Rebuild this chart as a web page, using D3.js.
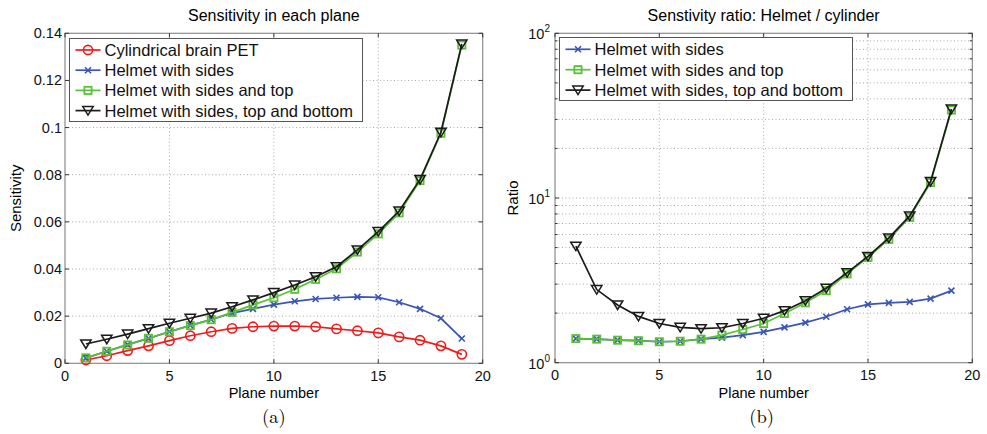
<!DOCTYPE html>
<html><head><meta charset="utf-8">
<script src="https://cdn.jsdelivr.net/npm/d3@7"></script>
<style>body{margin:0;background:#fff}svg{display:block;font-family:"Liberation Sans",Arial,sans-serif}</style>
</head><body>
<svg id="c" width="987" height="434"></svg>
<script>
// ---------- data ----------
const planes = [1,2,3,4,5,6,7,8,9,10,11,12,13,14,15,16,17,18,19];
const cylinder   = [0.0014,0.0032,0.0054,0.0074,0.0096,0.0117,0.0134,0.0148,0.0155,0.0158,0.0158,0.0155,0.0146,0.0138,0.0129,0.0112,0.0098,0.0074,0.0038];
const helmSides  = [0.0022,0.0051,0.0079,0.0106,0.0134,0.0161,0.0186,0.0213,0.0231,0.0249,0.0263,0.0273,0.0278,0.0282,0.0280,0.0259,0.0231,0.0191,0.0105];
const helmTop    = [0.0023,0.0051,0.0078,0.0106,0.0134,0.0160,0.0185,0.0216,0.0248,0.0278,0.0314,0.0356,0.0401,0.0472,0.0549,0.0638,0.0775,0.0976,0.1350];
const helmAll    = [0.0082,0.0102,0.0124,0.0147,0.0170,0.0191,0.0213,0.0240,0.0269,0.0300,0.0332,0.0367,0.0410,0.0481,0.0559,0.0646,0.0780,0.0980,0.1355];
const ratioSides = [1.40,1.39,1.37,1.36,1.34,1.35,1.39,1.42,1.47,1.54,1.64,1.75,1.90,2.11,2.26,2.31,2.34,2.45,2.74];
const ratioTop   = [1.40,1.39,1.37,1.36,1.34,1.35,1.39,1.47,1.59,1.73,1.99,2.31,2.74,3.46,4.36,5.61,7.63,12.4,34.2];
const ratioAll   = [5.10,2.78,2.24,1.91,1.73,1.64,1.61,1.63,1.73,1.86,2.07,2.38,2.83,3.52,4.42,5.72,7.78,12.6,34.7];
const xTicks = [0,5,10,15,20];
const yTicksA = [0,0.02,0.04,0.06,0.08,0.1,0.12,0.14];
const yTickLabelsA = ["0","0.02","0.04","0.06","0.08","0.1","0.12","0.14"];
const yTicksB = [1,10,100];
const yTickExpB = ["0","1","2"];
const namesA = ["Cylindrical brain PET","Helmet with sides","Helmet with sides and top","Helmet with sides, top and bottom"];
const namesB = ["Helmet with sides","Helmet with sides and top","Helmet with sides, top and bottom"];

const COL = {red:"#ee1c1c", blue:"#3a55b4", green:"#5cbf3a", black:"#1a1a1a"};
const svg = d3.select("#c");

function marker(g, type, x, y, color){
  if(type==="o") g.append("circle").attr("cx",x).attr("cy",y).attr("r",4.6).attr("fill","none").attr("stroke",color).attr("stroke-width",1.6);
  else if(type==="x") g.append("path").attr("d",`M${x-3},${y-3}L${x+3},${y+3}M${x-3},${y+3}L${x+3},${y-3}`).attr("stroke",color).attr("stroke-width",1.6).attr("fill","none");
  else if(type==="s") g.append("rect").attr("x",x-3.6).attr("y",y-3.6).attr("width",7.2).attr("height",7.2).attr("fill","none").attr("stroke",color).attr("stroke-width",1.8);
  else if(type==="v") g.append("path").attr("d",`M${x-5.2},${y-4}L${x+5.2},${y-4}L${x},${y+4.5}Z`).attr("fill","none").attr("stroke",color).attr("stroke-width",1.5);
}

function panel(opts){
  const {x0,x1,y0,y1,yScale,yTickVals,yLabel,title,caption,series,names,logY} = opts;
  const g = svg.append("g");
  const x = d3.scaleLinear().domain([0,20]).range([x0,x1]);
  const y = yScale.range([y1,y0]);
  // grid
  const grid = g.append("g").attr("stroke","#a8a8a8").attr("stroke-dasharray","1,2.5").attr("stroke-width",1);
  xTicks.slice(1,-1).forEach(t=>grid.append("line").attr("x1",x(t)).attr("x2",x(t)).attr("y1",y0).attr("y2",y1));
  let gridY = logY ? [2,3,4,5,6,7,8,9,10,20,30,40,50,60,70,80,90] : yTickVals.slice(1,-1);
  gridY.forEach(t=>grid.append("line").attr("x1",x0).attr("x2",x1).attr("y1",y(t)).attr("y2",y(t)));
  // frame
  g.append("rect").attr("x",x0).attr("y",y0).attr("width",x1-x0).attr("height",y1-y0).attr("fill","none").attr("stroke","#8c8c8c").attr("stroke-width",1.2);
  // ticks
  const tk = g.append("g").attr("stroke","#333").attr("stroke-width",1);
  xTicks.forEach(t=>{tk.append("line").attr("x1",x(t)).attr("x2",x(t)).attr("y1",y1).attr("y2",y1-4);
                     tk.append("line").attr("x1",x(t)).attr("x2",x(t)).attr("y1",y0).attr("y2",y0+4);});
  yTickVals.forEach(t=>{tk.append("line").attr("x1",x0).attr("x2",x0+4).attr("y1",y(t)).attr("y2",y(t));
                        tk.append("line").attr("x1",x1).attr("x2",x1-4).attr("y1",y(t)).attr("y2",y(t));});
  if(logY){
    gridY.forEach(t=>{ if(t===10) return;
      tk.append("line").attr("x1",x0).attr("x2",x0+2.5).attr("y1",y(t)).attr("y2",y(t));
      tk.append("line").attr("x1",x1).attr("x2",x1-2.5).attr("y1",y(t)).attr("y2",y(t));});
  }
  // tick labels
  const lab = g.append("g").attr("font-size","14.5px").attr("fill","#111");
  xTicks.forEach(t=>lab.append("text").attr("x",x(t)).attr("y",y1+17.3).attr("text-anchor","middle").text(t));
  if(!logY){
    yTickVals.forEach((t,i)=>lab.append("text").attr("x",x0-3).attr("y",y(t)+5).attr("text-anchor","end").text(yTickLabelsA[i]));
  } else {
    yTickVals.forEach((t,i)=>{const tx=lab.append("text").attr("x",x0-5).attr("y",y(t)+6).attr("text-anchor","end");
      tx.append("tspan").text("10"); tx.append("tspan").attr("font-size","10px").attr("dy",-7).text(yTickExpB[i]);});
  }
  // axis labels
  g.append("text").attr("x",(x0+x1)/2).attr("y",y1+35).attr("text-anchor","middle").attr("font-size","14.5px").text("Plane number");
  g.append("text").attr("transform",`translate(${opts.yLabX},${(y0+y1)/2}) rotate(-90)`).attr("text-anchor","middle").attr("font-size","15px").text(yLabel);
  g.append("text").attr("x",(x0+x1)/2).attr("y",21).attr("text-anchor","middle").attr("font-size","16px").text(title);
  g.append("text").attr("x",(x0+x1)/2-(opts.capOff||0)).attr("y",423).attr("text-anchor","middle").attr("font-size","18.5px").attr("font-family","'Latin Modern Roman','DejaVu Serif','Liberation Serif',serif").text(caption);
  // series
  const line = d3.line().x((d,i)=>x(planes[i])).y(d=>y(d));
  series.forEach(s=>{
    g.append("path").attr("d",line(s.values)).attr("fill","none").attr("stroke",s.color).attr("stroke-width",1.7);
    s.values.forEach((v,i)=>marker(g,s.m,x(planes[i]),y(v),s.color));
  });
  // legend
  const lg = g.append("g");
  const L = opts.legend;
  lg.append("rect").attr("x",L.x).attr("y",L.y).attr("width",L.w).attr("height",L.h).attr("fill","#fff").attr("stroke","#555").attr("stroke-width",1);
  series.forEach((s,i)=>{
    const cy = L.y + L.first + i*L.step;
    lg.append("line").attr("x1",L.x+6).attr("x2",L.x+31).attr("y1",cy).attr("y2",cy).attr("stroke",s.color).attr("stroke-width",1.7);
    marker(lg,s.m,L.x+18.5,cy,s.color);
    lg.append("text").attr("x",L.x+35).attr("y",cy+6).attr("font-size","16.5px").attr("fill","#111").text(names[i]);
  });
}

panel({x0:65,x1:482.7,y0:33.3,y1:363.3,yScale:d3.scaleLinear().domain([0,0.14]),yTickVals:yTicksA,
  yLabel:"Sensitivity",yLabX:21,title:"Sensitivity in each plane",caption:"(a)",names:namesA,capOff:0,
  legend:{x:69.5,y:38.5,w:293,h:83,first:11.5,step:20.2},
  series:[{values:cylinder,color:COL.red,m:"o"},{values:helmSides,color:COL.blue,m:"x"},{values:helmTop,color:COL.green,m:"s"},{values:helmAll,color:COL.black,m:"v"}]});
panel({x0:555,x1:972.3,y0:33.3,y1:362.7,yScale:d3.scaleLog().domain([1,100]),yTickVals:yTicksB,logY:true,
  yLabel:"Ratio",yLabX:518,title:"Senstivity ratio: Helmet / cylinder",caption:"(b)",names:namesB,capOff:2,
  legend:{x:559.5,y:37.5,w:293,h:63,first:11.8,step:20.4},
  series:[{values:ratioSides,color:COL.blue,m:"x"},{values:ratioTop,color:COL.green,m:"s"},{values:ratioAll,color:COL.black,m:"v"}]});
</script>
</body></html>
